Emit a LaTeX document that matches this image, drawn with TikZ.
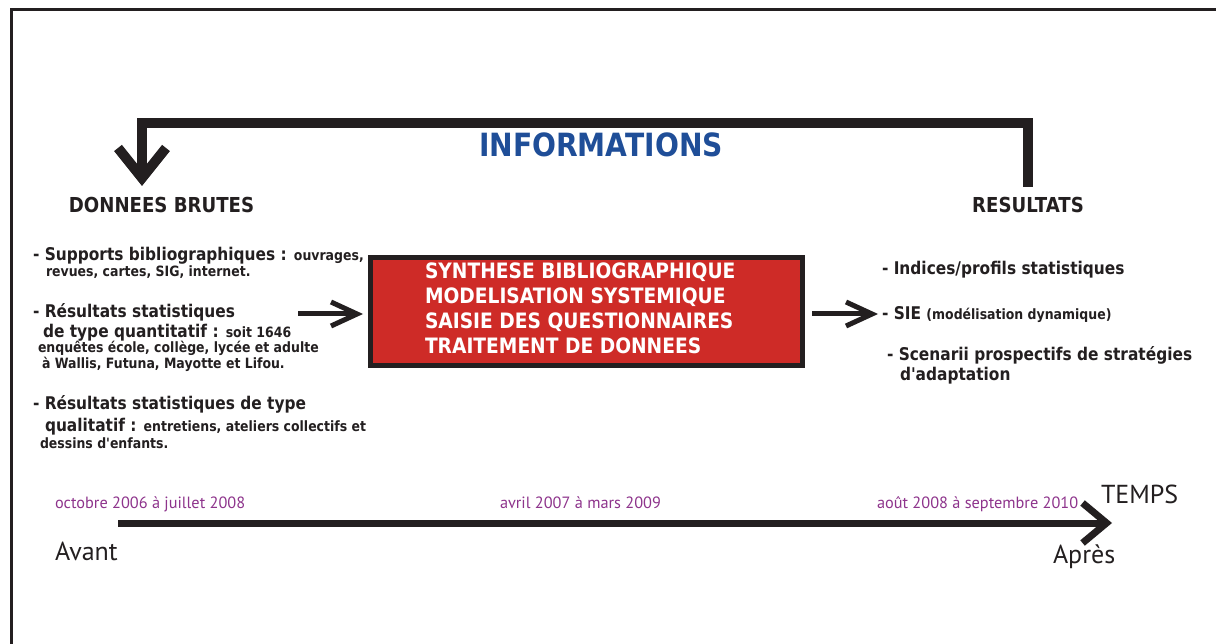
\documentclass[tikz,border=0pt]{standalone}
\usepackage{fontspec}
\setmainfont{DejaVu Sans}
\newfontfamily\tah{DejaVu Sans}[FakeStretch=0.88]
\newfontfamily\tlfont{PT Sans}
\usetikzlibrary{arrows.meta}
\definecolor{ink}{RGB}{35,31,32}
\definecolor{infoblue}{RGB}{31,78,152}
\definecolor{boxred}{RGB}{206,43,39}
\definecolor{datepurple}{RGB}{142,52,140}
\newcommand{\bigt}{\tah\bfseries\fontsize{17.5}{20}\selectfont}
\newcommand{\smallt}{\tah\bfseries\fontsize{14.2}{17}\selectfont}
\begin{document}
\begin{tikzpicture}[x=1pt,y=-1pt,
  every node/.style={inner sep=0pt,outer sep=0pt,text=ink},
  line/.style={anchor=base west},
  head/.style={anchor=base,font=\tah\bfseries\fontsize{20.6}{24}\selectfont},
  boxtxt/.style={anchor=base west,text=white,font=\tah\bfseries\fontsize{21.2}{25}\selectfont},
  date/.style={anchor=base west,text=datepurple,font=\tlfont\fontsize{16.3}{19}\selectfont},
  tlword/.style={anchor=base west,font=\tlfont\fontsize{26}{30}\selectfont},
  smallarr/.style={draw=ink,line width=5pt,-{Straight Barb[length=26pt,width=24pt]}},
  toparr/.style={draw=ink,line width=10pt,-{Straight Barb[length=30pt,width=48pt]}},
  timearr/.style={draw=ink,line width=7pt,-{Straight Barb[length=24pt,width=40pt]}},
  redbox/.style={draw=ink,fill=boxred,line width=5pt,minimum width=432pt,minimum height=108pt}]
\useasboundingbox (0,0) rectangle (1216,644);
\fill[white] (0,0) rectangle (1216,644);
% frame
\draw[line width=3pt,ink] (11,660) -- (11,10) -- (1230,10);

% headings
\node[anchor=base,text=infoblue,font=\tah\bfseries\fontsize{32}{36}\selectfont] (info) at (601,157) {INFORMATIONS};
\node[head] (donnees) at (161.5,213) {DONNEES BRUTES};
\node[head] (resultats) at (1028,213) {RESULTATS};

% top arrow
\coordinate (topR) at (1028,187);
\coordinate (topL) at (142,186);
\draw[toparr] (topR) -- ++(0,-64) -| (topL);

% left list
\node[line] (l1) at (33,261) {\bigt - Supports bibliographiques : \smallt ouvrages,};
\node[line] (l2) at (46,277) {\smallt revues, cartes, SIG, internet.};
\node[line] (l3) at (33,318) {\bigt - Résultats statistiques};
\node[line] (l4) at (43,338) {\bigt de type quantitatif : \smallt soit 1646};
\node[line] (l5) at (38,353) {\smallt enquêtes école, collège, lycée et adulte};
\node[line] (l6) at (42,369) {\smallt à Wallis, Futuna, Mayotte et Lifou.};
\node[line] (l7) at (33,409) {\bigt - Résultats statistiques de type};
\node[line] (l8) at (45,431) {\bigt qualitatif : \smallt entretiens, ateliers collectifs et};
\node[line] (l9) at (40,448) {\smallt dessins d'enfants.};

% central box
\node[redbox] (proc) at (586.5,311.5) {};
\node[boxtxt] (t1) at (425,279) {SYNTHESE BIBLIOGRAPHIQUE};
\node[boxtxt] (t2) at (425,304) {MODELISATION SYSTEMIQUE};
\node[boxtxt] (t3) at (425,329) {SAISIE DES QUESTIONNAIRES};
\node[boxtxt] (t4) at (425,354) {TRAITEMENT DE DONNEES};

% right list
\node[line] (r1) at (882,275) {\bigt - Indices/profils statistiques};
\node[line] (r2) at (882,320) {\bigt - SIE \smallt (modélisation dynamique)};
\node[line] (r3) at (887,360) {\bigt - Scenarii prospectifs de stratégies};
\node[line] (r4) at (900,381) {\bigt d'adaptation};

% side arrows
\coordinate (inS) at (298,314);
\coordinate (inE) at (363,314);
\draw[smallarr] (inS) -- (inE);
\coordinate (outS) at (812,314);
\coordinate (outE) at (878,314);
\draw[smallarr] (outS) -- (outE);

% timeline
\coordinate (tS) at (118,523);
\coordinate (tE) at (1112,523);
\draw[timearr] (tS) -- (tE);
\node[date] (d1) at (55,508) {octobre 2006 à juillet 2008};
\node[date] (d2) at (500,508) {avril 2007 à mars 2009};
\node[date] (d3) at (877,508) {août 2008 à septembre 2010};
\node[tlword] (temps) at (1101,503) {TEMPS};
\node[tlword] (avant) at (55,560) {Avant};
\node[tlword] (apres) at (1053,563) {Après};
\end{tikzpicture}
\end{document}
